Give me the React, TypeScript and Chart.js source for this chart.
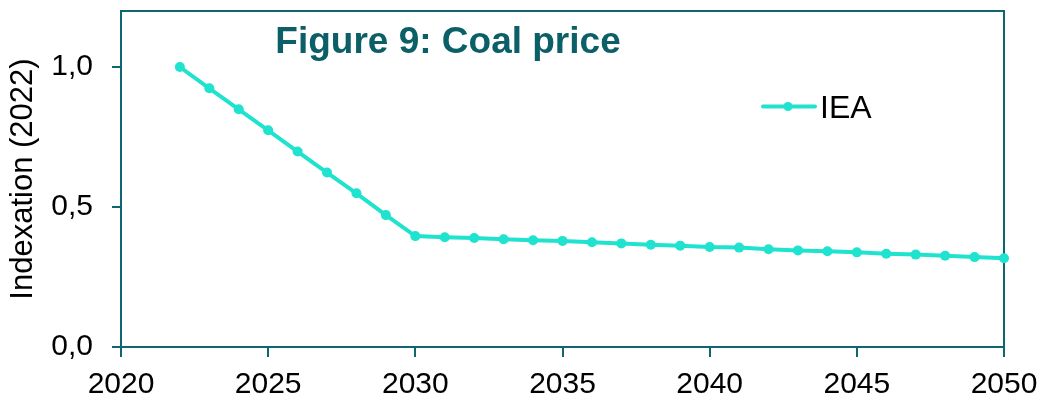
import React, { useEffect, useRef } from 'react';
import { Chart, registerables } from 'chart.js';

Chart.register(...registerables);

const years = [2022, 2023, 2024, 2025, 2026, 2027, 2028, 2029, 2030, 2031, 2032, 2033, 2034, 2035, 2036, 2037, 2038, 2039, 2040, 2041, 2042, 2043, 2044, 2045, 2046, 2047, 2048, 2049, 2050];
const ieaValues = [1.0, 0.924, 0.849, 0.774, 0.698, 0.623, 0.549, 0.471, 0.396, 0.392, 0.389, 0.385, 0.381, 0.379, 0.374, 0.370, 0.365, 0.362, 0.357, 0.355, 0.349, 0.345, 0.342, 0.338, 0.333, 0.330, 0.326, 0.321, 0.317];
const xTickValues = [2020, 2025, 2030, 2035, 2040, 2045, 2050];
const yTickValues = [0, 0.5, 1.0];
const seriesLabel = 'IEA';
const chartTitle = 'Figure 9: Coal price';
const yAxisTitle = 'Indexation (2022)';

const AXIS = '#0E6670';
const TITLE_COLOR = '#0B5F66';
const LINE = '#1FE2CF';
const FONT = '"Liberation Sans", Arial, sans-serif';

const overlay = {
  id: 'overlay',
  beforeDatasetsDraw(chart: any) {
    const { ctx } = chart;
    const { left, right, top, bottom } = chart.chartArea;
    ctx.save();
    ctx.strokeStyle = AXIS;
    ctx.lineWidth = 2;
    ctx.strokeRect(left, top, right - left, bottom - top);
    ctx.restore();
  },
  afterDraw(chart: any) {
    const { ctx } = chart;
    const { left, top } = chart.chartArea;
    ctx.save();
    ctx.font = `bold 37px ${FONT}`;
    ctx.fillStyle = TITLE_COLOR;
    ctx.textAlign = 'center';
    ctx.textBaseline = 'alphabetic';
    ctx.fillText(chartTitle, left + 327, top + 42);

    const ly = top + 95.5;
    ctx.strokeStyle = LINE;
    ctx.lineWidth = 4;
    ctx.lineCap = 'round';
    ctx.beginPath();
    ctx.moveTo(left + 642, ly);
    ctx.lineTo(left + 694, ly);
    ctx.stroke();
    ctx.fillStyle = LINE;
    ctx.beginPath();
    ctx.arc(left + 667, ly, 4.5, 0, Math.PI * 2);
    ctx.fill();
    ctx.font = `32px ${FONT}`;
    ctx.fillStyle = '#000';
    ctx.textAlign = 'left';
    ctx.fillText(seriesLabel, left + 699, top + 106.5);
    ctx.restore();
  },
};

export default function App() {
  const ref = useRef<HTMLCanvasElement | null>(null);
  useEffect(() => {
    if (!ref.current) return;
    const chart = new Chart(ref.current, {
      type: 'line',
      data: {
        datasets: [
          {
            label: seriesLabel,
            data: years.map((y, i) => ({ x: y, y: ieaValues[i] })),
            borderColor: LINE,
            backgroundColor: LINE,
            borderWidth: 4,
            pointRadius: 5,
            pointBorderWidth: 0,
            pointBackgroundColor: LINE,
            tension: 0,
            clip: false as any,
          },
        ],
      },
      plugins: [overlay],
      options: {
        responsive: false,
        animation: false,
        layout: { padding: { left: 0, right: 44, top: 11, bottom: 0 } },
        plugins: { legend: { display: false }, tooltip: { enabled: false }, title: { display: false } },
        scales: {
          x: {
            type: 'linear',
            min: 2020,
            max: 2050,
            afterBuildTicks: (s: any) => {
              s.ticks = xTickValues.map((v) => ({ value: v }));
            },
            afterFit: (s: any) => {
              s.height = 53;
              s.paddingLeft = 0;
              s.paddingRight = 0;
            },
            border: { display: true, color: AXIS, width: 2 },
            grid: { display: true, drawOnChartArea: false, drawTicks: true, tickLength: 10, color: AXIS, lineWidth: 2 },
            ticks: {
              color: '#000',
              font: { family: FONT, size: 30 },
              padding: 10,
              maxRotation: 0,
              callback: (v: any) => String(v),
            },
          },
          y: {
            type: 'linear',
            min: 0,
            max: 1.2,
            afterBuildTicks: (s: any) => {
              s.ticks = yTickValues.map((v) => ({ value: v }));
            },
            afterFit: (s: any) => {
              s.width = 121;
              s.paddingTop = 0;
              s.paddingBottom = 0;
            },
            border: { display: true, color: AXIS, width: 2 },
            grid: { display: true, drawOnChartArea: false, drawTicks: true, tickLength: 9, color: AXIS, lineWidth: 2 },
            ticks: {
              color: '#000',
              font: { family: FONT, size: 30 },
              padding: 19,
              callback: (v: any) => Number(v).toFixed(1).replace('.', ','),
            },
            title: {
              display: true,
              text: yAxisTitle,
              color: '#000',
              font: { family: FONT, size: 31 },
              padding: { top: 5, bottom: 0 },
            },
          },
        },
      },
    });
    return () => chart.destroy();
  }, []);
  return (
    <div style={{ position: 'fixed', left: 0, top: 0, width: 1048, height: 400, background: '#fff' }}>
      <canvas ref={ref} width={1048} height={400} style={{ display: 'block' }} />
    </div>
  );
}
